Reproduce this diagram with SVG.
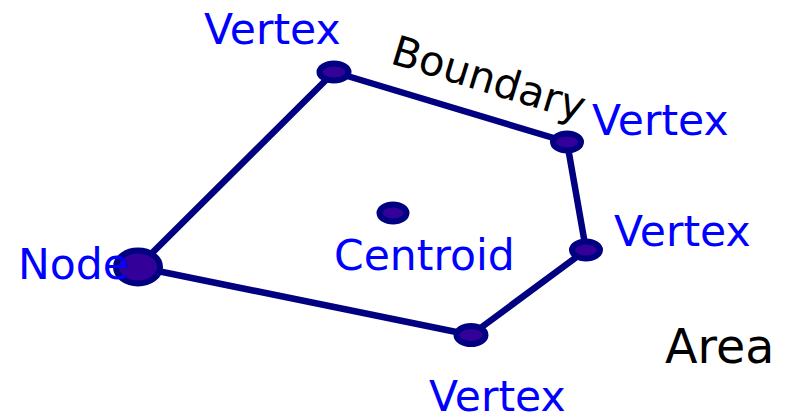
<svg xmlns="http://www.w3.org/2000/svg" width="792" height="419" viewBox="0 0 792 419">
<style>
.edge{stroke:#000080;stroke-width:6.5;fill:none;stroke-linecap:round}
.pt{fill:#330099;stroke:#000080;stroke-width:6}
.lbl{font-family:"DejaVu Sans",sans-serif;font-size:42.5px;fill:#0000ff}
.blk{font-family:"DejaVu Sans",sans-serif;fill:#000000}
</style>
<rect width="792" height="419" fill="#ffffff"/>
<g id="connectors">
<line class="edge" x1="138" y1="267" x2="334" y2="72"/>
<line class="edge" x1="334" y1="72" x2="567" y2="142"/>
<line class="edge" x1="567" y1="142" x2="586" y2="250"/>
<line class="edge" x1="586" y1="250" x2="471" y2="335"/>
<line class="edge" x1="471" y1="335" x2="138" y2="267"/>
</g>
<g id="node"><ellipse class="pt" cx="138" cy="267" rx="22" ry="16.5"/></g>
<g id="vertex1"><ellipse class="pt" cx="334" cy="72" rx="14.5" ry="8.5"/></g>
<g id="vertex2"><ellipse class="pt" cx="567" cy="142" rx="14" ry="8.5"/></g>
<g id="vertex3"><ellipse class="pt" cx="586" cy="250" rx="14" ry="8.5"/></g>
<g id="vertex4"><ellipse class="pt" cx="471" cy="335" rx="14.5" ry="9"/></g>
<g id="centroid"><ellipse class="pt" cx="393" cy="213" rx="13.5" ry="8.5"/></g>
<g id="labels">
<text class="lbl" x="204" y="44">Vertex</text>
<text class="lbl" x="592" y="135">Vertex</text>
<text class="lbl" x="614" y="246">Vertex</text>
<text class="lbl" x="429" y="411">Vertex</text>
<text class="lbl" x="334" y="270">Centroid</text>
<text class="lbl" x="18" y="279">Node</text>
<text class="blk" x="665" y="363" font-size="47.5">Area</text>
<text class="blk" x="0" y="0" font-size="41.5" transform="translate(389,63) rotate(17)">Boundary</text>
</g>
</svg>
